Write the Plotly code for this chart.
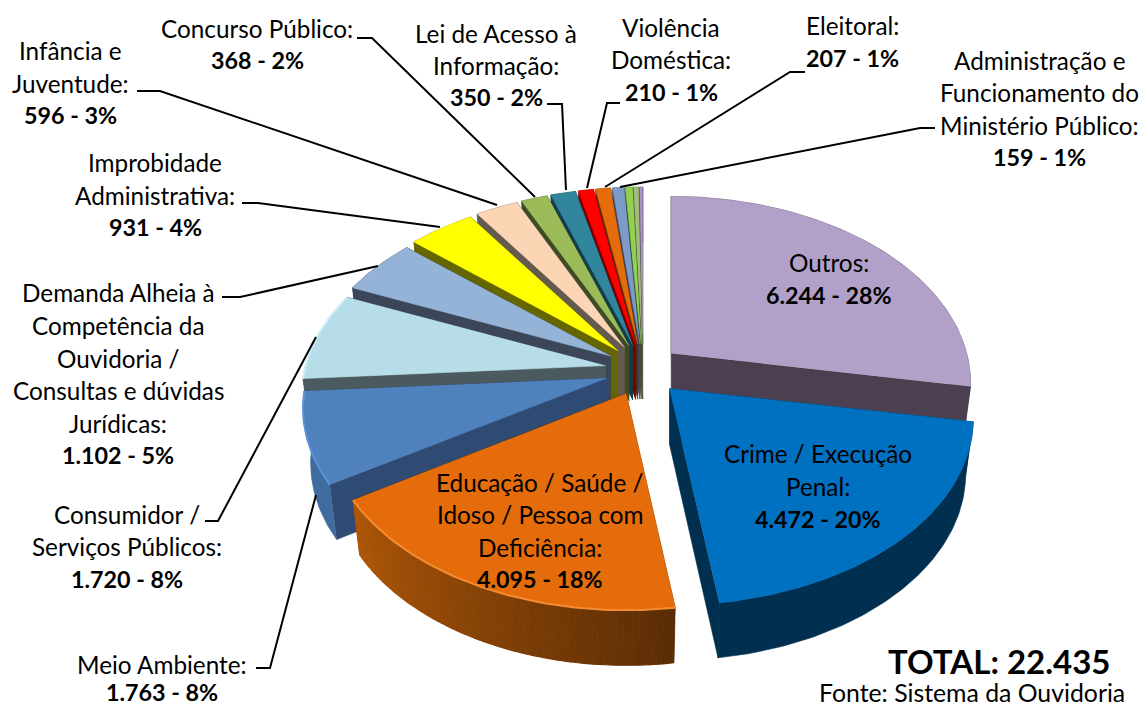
import numpy as np
import plotly.graph_objects as go

# ---------- data ----------
names = ["Outros", "Crime / Execução Penal", "Educação / Saúde / Idoso / Pessoa com Deficiência",
         "Meio Ambiente", "Consumidor / Serviços Públicos",
         "Demanda Alheia à Competência da Ouvidoria / Consultas e dúvidas Jurídicas",
         "Improbidade Administrativa", "Infância e Juventude", "Concurso Público",
         "Lei de Acesso à Informação", "Violência Doméstica", "Eleitoral",
         "Administração e Funcionamento do Ministério Público", "", "", ""]
values = [6244, 4472, 4095, 1763, 1720, 1102, 931, 596, 368, 350, 210, 207, 159, 100, 70, 48]
total = 22435
top_colors = ["#B1A0C7", "#0070C0", "#E46C0A", "#4F81BD", "#B7DEE8", "#95B3D7", "#FFFF00", "#FCD5B5",
              "#9BBB59", "#31859C", "#FF0000", "#E46C0A", "#7C9BC8", "#92D050", "#A3BC7C", "#A894C8"]
cut_colors = ["#4B4050", "#002F4F", "#5B2D06", "#2F4B73", "#4B5A5E", "#3B4658", "#666600", "#655A50",
              "#3E4B24", "#123D4A", "#7A0000", "#5B2D06", "#3A4860", "#3E5524", "#46503A", "#4B4050"]
outer_a = ["#4B4050", "#002F4F", "#5B2D06", "#3F6B9F", "#4B5A5E", "#3B4658", "#666600", "#655A50",
           "#3E4B24", "#123D4A", "#7A0000", "#5B2D06", "#3A4860", "#3E5524", "#46503A", "#4B4050"]
outer_b = ["#4B4050", "#002F4F", "#B05808", "#3F6B9F", "#4B5A5E", "#3B4658", "#666600", "#655A50",
           "#3E4B24", "#123D4A", "#7A0000", "#5B2D06", "#3A4860", "#3E5524", "#46503A", "#4B4050"]
rim_colors = {2: "#F58B33", 3: "#5B93D8", 4: "#CDF0F8"}

# label layout: slice index, centre x, y of each line (last line is the bold count)
label_lines = {
    0: (["Outros:"], 829, [262, 295]),
    1: (["Crime / Execução", "Penal:"], 818, [453, 486, 519]),
    2: (["Educação / Saúde /", "Idoso / Pessoa com", "Deficiência:"], 540, [482, 514, 547, 579]),
    3: (["Meio Ambiente:"], 162, [664, 692]),
    4: (["Consumidor /", "Serviços Públicos:"], 127, [514, 546, 579]),
    5: (["Demanda Alheia à", "Competência da", "Ouvidoria /", "Consultas e dúvidas", "Jurídicas:"], 118,
        [292, 325, 358, 390, 423, 455]),
    6: (["Improbidade", "Administrativa:"], 155, [162, 195, 227]),
    7: (["Infância e", "Juventude:"], 70, [50, 83, 115]),
    8: (["Concurso Público:"], 257, [28, 60]),
    9: (["Lei de Acesso à", "Informação:"], 496, [33, 65, 97]),
    10: (["Violência", "Doméstica:"], 671, [27, 59, 92]),
    11: (["Eleitoral:"], 852, [25, 58]),
    12: (["Administração e", "Funcionamento do", "Ministério Público:"], 1039, [60, 92, 125, 157]),
}
leaders = [
    ([357, 372, 535], [38, 38, 197]),
    ([137, 160, 497], [91, 91, 205]),
    ([547, 562, 566], [104, 104, 190]),
    ([620, 607, 587], [103, 103, 188]),
    ([805, 790, 605], [72, 72, 187]),
    ([935, 920, 620], [128, 128, 187]),
    ([242, 258, 440], [203, 203, 227]),
    ([222, 240, 378], [297, 297, 266]),
    ([205, 218, 316], [521, 521, 337]),
    ([256, 270, 316], [668, 668, 495]),
]

# ---------- projection of the tilted, exploded pie ----------
CX, CY = 643, 370          # pie centre
EX, EY = 38, 26            # explosion offset
RX, RY, K = 300, 182, 0.16 # radii and perspective strength
DEPTH, SHRINK = 55, 0.975  # wall height and inward lean of the bottom
X_SCALE = {0: 0.985, 2: 0.985}   # slices drawn slightly narrower in the picture
X_NUDGE = {0: -1, 2: -1}


def hex2rgb(c):
    return np.array([int(c[i:i + 2], 16) for i in (1, 3, 5)], float)


def mix(a, b, t):
    r = hex2rgb(a) * (1 - t) + hex2rgb(b) * t
    return "rgb(%d,%d,%d)" % tuple(r)


def rim(theta):
    u, v = np.sin(theta), -np.cos(theta)
    s = 1 / (1 - K * v)
    return RX * u * s, RY * v * s


fig = go.Figure()


def poly(xs, ys, color, width=0.6):
    fig.add_trace(go.Scatter(x=list(xs), y=list(ys), mode="lines", fill="toself", fillcolor=color,
                             line=dict(color=color, width=width), hoverinfo="skip", showlegend=False))


edges = np.radians(np.concatenate([[0], np.cumsum(values)]) / total * 360)

draw_order = [15, 14, 13, 12, 11, 10, 9, 8, 7, 6, 5, 4, 3, 0, 2, 1]
for i in draw_order:
    a, b = edges[i], edges[i + 1]
    mid = (a + b) / 2
    ax, ay = CX + EX * np.sin(mid) + X_NUDGE.get(i, 0), CY - EY * np.cos(mid)
    n = max(8, int((b - a) * 60))
    th = np.linspace(a, b, n + 1)
    dx, dy = rim(th)
    dx = dx * X_SCALE.get(i, 1)
    tx, ty = ax + dx, ay + dy                      # top rim
    bx, by = ax + dx * SHRINK, ay + dy + DEPTH     # bottom rim
    # cut walls
    for j in (0, -1):
        poly([ax, tx[j], bx[j], ax], [ay, ty[j], by[j], ay + DEPTH], cut_colors[i])
    # outer wall: one face, or bands when it shades along the arc
    if outer_a[i] == outer_b[i]:
        poly(np.r_[tx, bx[::-1]], np.r_[ty, by[::-1]], outer_a[i])
    else:
        for k in range(n):
            col = mix(outer_a[i], outer_b[i], (k + .5) / n)
            poly([tx[k], tx[k + 1], bx[k + 1], bx[k]], [ty[k], ty[k + 1], by[k + 1], by[k]], col, 1.2)
    # top face
    poly(np.r_[ax, tx], np.r_[ay, ty], top_colors[i])
    if i in rim_colors:
        fig.add_trace(go.Scatter(x=tx, y=ty, mode="lines", line=dict(color=rim_colors[i], width=2),
                                 hoverinfo="skip", showlegend=False))

for lx, ly in leaders:
    fig.add_trace(go.Scatter(x=lx, y=ly, mode="lines", line=dict(color="black", width=2),
                             hoverinfo="skip", showlegend=False))

FONT = "Lato"
FS = 24.3
FS_BOLD = 23.3


def text(x, y, s, size=FS):
    fig.add_annotation(x=x, y=y, xref="x", yref="y", text=s, showarrow=False, xanchor="center",
                       yanchor="middle", font=dict(family=FONT, size=size, color="black"))


for i, (lines, x, ys) in label_lines.items():
    for s, y in zip(lines, ys):
        text(x, y, s)
    count = f"{values[i]:,}".replace(",", ".")
    text(x, ys[-1], f"<b>{count} - {round(values[i] / total * 100)}%</b>", FS_BOLD)

text(999, 661, f"<b>TOTAL: {total:,}</b>".replace(",", "."), 33)
text(972, 692, "Fonte: Sistema da Ouvidoria", 24.8)

fig.update_layout(width=1145, height=708, margin=dict(l=0, r=0, t=0, b=0), autosize=False,
                  paper_bgcolor="white", plot_bgcolor="white",
                  xaxis=dict(range=[0, 1145], visible=False, fixedrange=True),
                  yaxis=dict(range=[708, 0], visible=False, fixedrange=True))
fig.write_html("out.html", config={"displayModeBar": False},
               post_script="document.body.style.margin='0';document.body.style.overflow='hidden';")
